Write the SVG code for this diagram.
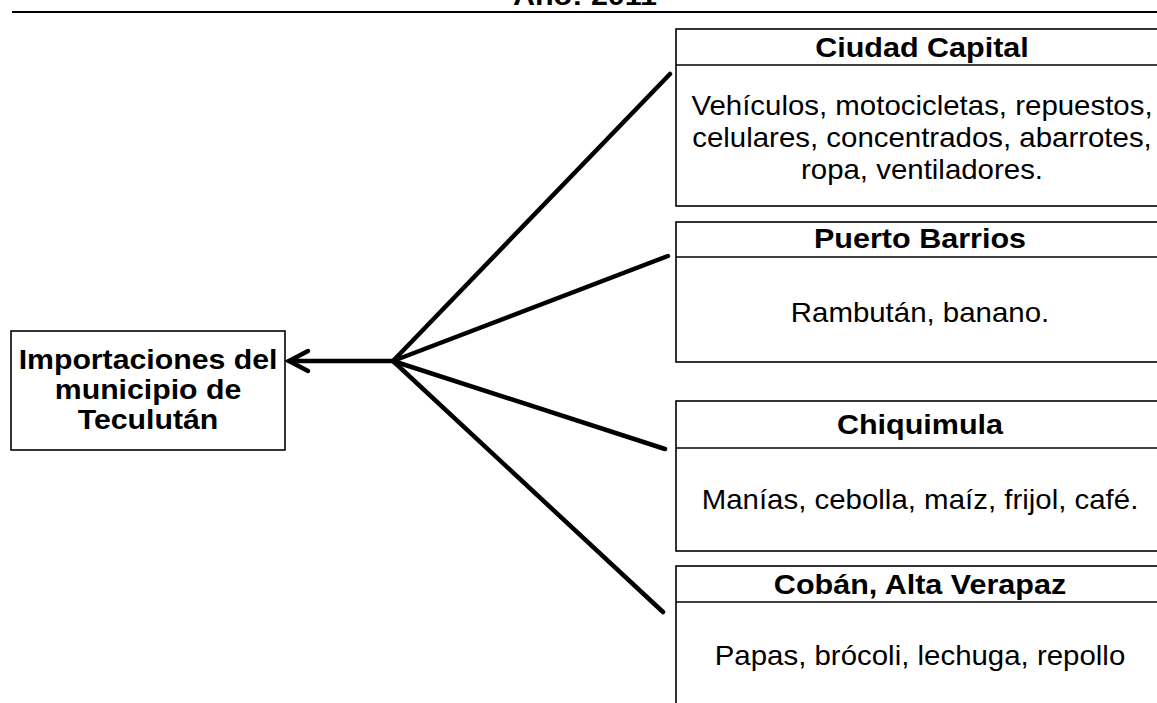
<svg xmlns="http://www.w3.org/2000/svg" width="1157" height="703" viewBox="0 0 1157 703">
<style>
.box{fill:#fff;stroke:#000;stroke-width:1.6}
.div{stroke:#000;stroke-width:1.6}
.hdr{font-family:"Liberation Sans",Arial,sans-serif;font-weight:bold;font-size:27.5px;fill:#000}
.body{font-family:"Liberation Sans",Arial,sans-serif;font-size:27px;fill:#000}
.conn{stroke:#000;stroke-width:4.5;fill:none;stroke-linecap:round}
</style>
<defs>
<marker id="chev" markerUnits="userSpaceOnUse" markerWidth="30" markerHeight="30" viewBox="-4 -4 30 30" refX="20" refY="11" orient="auto" overflow="visible">
<path d="M1,1 L20,11 L1,21" fill="none" stroke="#000" stroke-width="4.5" stroke-linecap="round" stroke-linejoin="miter"/>
</marker>
</defs>
<rect width="1157" height="703" fill="#fff"/>
<line x1="12" y1="12" x2="1157" y2="12" stroke="#000" stroke-width="2"/>
<text class="hdr" text-anchor="middle" transform="translate(585,4.5) scale(1.11,1)">Año: 2011</text>

<g id="main">
<rect class="box" x="11" y="331" width="274" height="119"/>
<text class="hdr" text-anchor="middle" transform="translate(148,369) scale(1.1,1)"><tspan x="0" y="0">Importaciones del</tspan><tspan x="0" y="30">municipio de</tspan><tspan x="0" y="60">Teculután</tspan></text>
</g>

<g id="ciudad-capital">
<rect class="box" x="676" y="29" width="494" height="177"/>
<line class="div" x1="676" y1="65" x2="1170" y2="65"/>
<text class="hdr" text-anchor="middle" transform="translate(922,57) scale(1.11,1)">Ciudad Capital</text>
<text class="body" text-anchor="middle" transform="translate(922,115) scale(1.09,1)"><tspan x="0" y="0">Vehículos, motocicletas, repuestos,</tspan><tspan x="0" y="32">celulares, concentrados, abarrotes,</tspan><tspan x="0" y="64">ropa, ventiladores.</tspan></text>
</g>

<g id="puerto-barrios">
<rect class="box" x="676" y="222" width="494" height="140"/>
<line class="div" x1="676" y1="257" x2="1170" y2="257"/>
<text class="hdr" text-anchor="middle" transform="translate(920,248) scale(1.11,1)">Puerto Barrios</text>
<text class="body" text-anchor="middle" transform="translate(920,322) scale(1.09,1)">Rambután, banano.</text>
</g>

<g id="chiquimula">
<rect class="box" x="676" y="401" width="494" height="150"/>
<line class="div" x1="676" y1="448" x2="1170" y2="448"/>
<text class="hdr" text-anchor="middle" transform="translate(920,434) scale(1.11,1)">Chiquimula</text>
<text class="body" text-anchor="middle" transform="translate(920,509) scale(1.09,1)">Manías, cebolla, maíz, frijol, café.</text>
</g>

<g id="coban">
<rect class="box" x="676" y="566" width="494" height="200"/>
<line class="div" x1="676" y1="602" x2="1170" y2="602"/>
<text class="hdr" text-anchor="middle" transform="translate(920,594) scale(1.11,1)">Cobán, Alta Verapaz</text>
<text class="body" text-anchor="middle" transform="translate(920,665) scale(1.09,1)">Papas, brócoli, lechuga, repollo</text>
</g>

<g id="connectors">
<line class="conn" x1="393" y1="361" x2="289" y2="361" marker-end="url(#chev)"/>
<line class="conn" x1="393" y1="361" x2="670" y2="74"/>
<line class="conn" x1="393" y1="361" x2="668" y2="256"/>
<line class="conn" x1="393" y1="361" x2="665" y2="449"/>
<line class="conn" x1="393" y1="361" x2="663" y2="612"/>
</g>
</svg>
